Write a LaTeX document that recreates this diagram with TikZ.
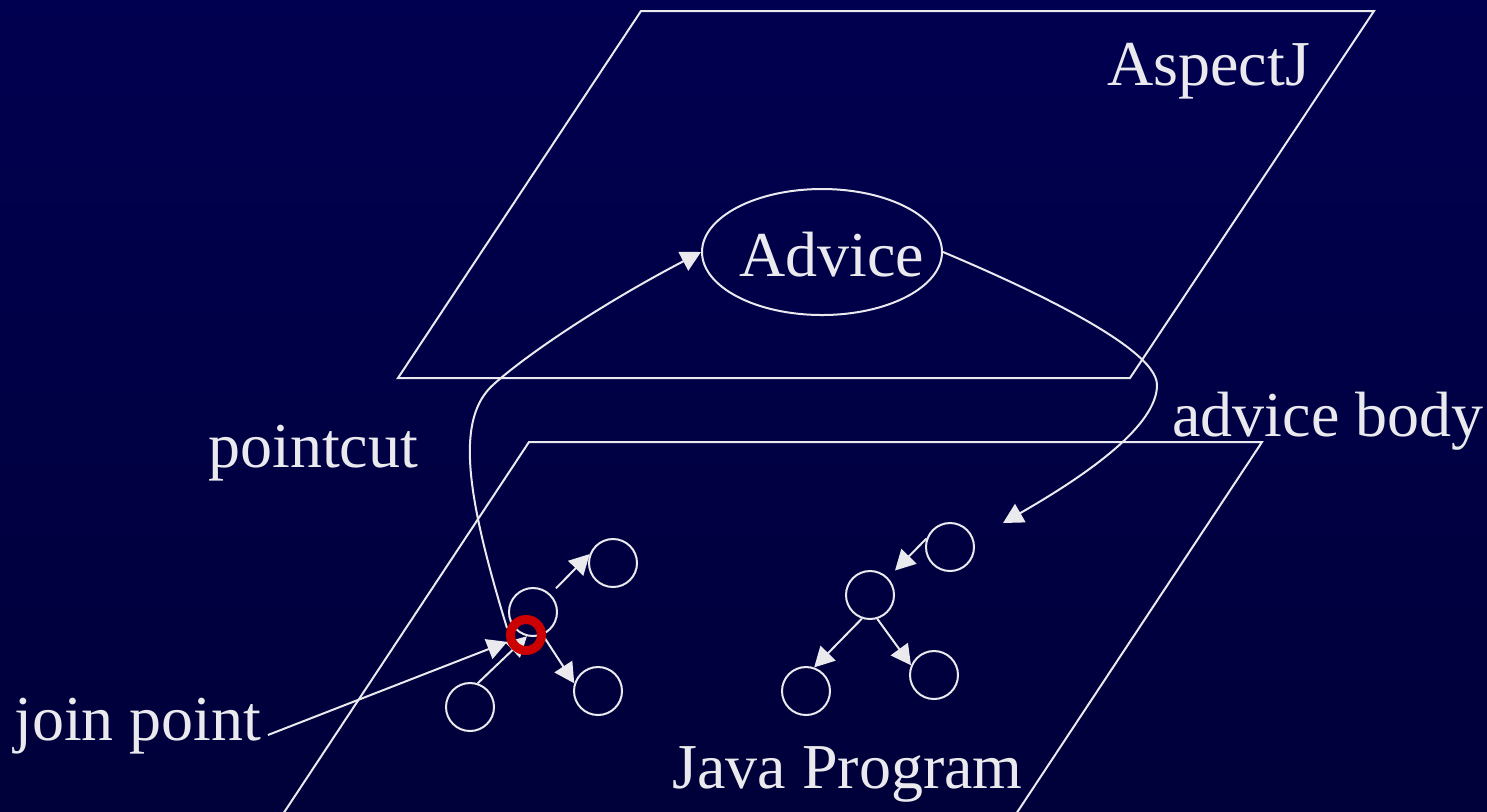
\documentclass[tikz,border=0pt]{standalone}
\usepackage{fontspec}
\setmainfont{Liberation Serif}
\usetikzlibrary{arrows.meta,shapes.geometric}
\definecolor{ink}{RGB}{234,234,238}
\definecolor{jpred}{RGB}{204,0,0}
\definecolor{navytop}{RGB}{0,0,80}
\definecolor{navymid}{RGB}{0,0,100}
\definecolor{navybot}{RGB}{0,0,58}
\begin{document}
\begin{tikzpicture}[x=0.5pt,y=-0.5pt,
  plane/.style={draw=ink, line width=1pt},
  item/.style={circle, draw=ink, line width=1pt, minimum size=24pt, inner sep=0pt},
  arr/.style={draw=ink, line width=1pt, -{Triangle[length=10pt,width=10.5pt]}},
  lbl/.style={text=ink, font=\fontsize{32}{36}\selectfont, inner sep=0pt, anchor=base west},
]
\useasboundingbox (0,0) rectangle (1487,811);
\shade[top color=navytop, middle color=navymid, bottom color=navybot] (0,0) rectangle (1487,811);

% the two planes
\draw[plane] (641,11) -- (1374,11) -- (1130,378) -- (398,378) -- cycle;
\begin{scope}
  \clip (0,0) rectangle (1487,811);
  \draw[plane] (529,442) -- (1262,442) -- (1016,814) -- (283,814) -- cycle;
\end{scope}

% labels
\node[lbl] (aspectj) at (1107,85) {AspectJ};
\node[lbl] (pointcut) at (208,467) {pointcut};
\node[lbl] (body) at (1172,436) {advice body};
\node[lbl] (jplabel) at (14,740) {join point};
\node[lbl] (java) at (672,788) {Java Program};

% advice
\node[ellipse, draw=ink, line width=1pt, minimum width=120pt, minimum height=63pt, inner sep=0pt] (adv) at (822,252) {};
\node[lbl] (advtext) at (739,276) {Advice};

% left call tree
\node[item] (A) at (533,612) {};
\node[item] (B) at (613,563) {};
\node[item] (C) at (598,691) {};
\node[item] (D) at (470,707) {};
\draw[arr, shorten <=4pt] (A.46) -- (B.159);
\draw[arr] (A.-67) -- (C.162);
\draw[arr] (D.72) -- (A.-104);

% right call tree
\node[item] (E) at (950,547) {};
\node[item] (F) at (870,595) {};
\node[item] (G) at (806,691) {};
\node[item] (H) at (934,675) {};
\draw[arr, shorten >=5pt] (E.160) -- (F.44);
\draw[arr] (F.-109) -- (G.71);
\draw[arr] (F.-73) -- (H.157);

% pointcut and advice body
\coordinate (pcfoot) at (507,628);
\coordinate (bodytip) at (1003,523);
\draw[arr] (pcfoot) .. controls (466,494) and (455,418) .. (494,384)
  .. controls (524,357) and (596,307) .. (adv.west);
\draw[arr] (adv.east) .. controls (1007,279) and (1157,345) .. (1157,385)
  .. controls (1157,425) and (1090,473) .. (bodytip);

% join point marker
\node[circle, draw=jpred, line width=4.5pt, minimum size=15.5pt, inner sep=0pt] (jp) at (526,635) {};
\draw[arr] ([xshift=3pt,yshift=2.5pt]jplabel.base east) -- (jp.200);
\end{tikzpicture}
\end{document}
